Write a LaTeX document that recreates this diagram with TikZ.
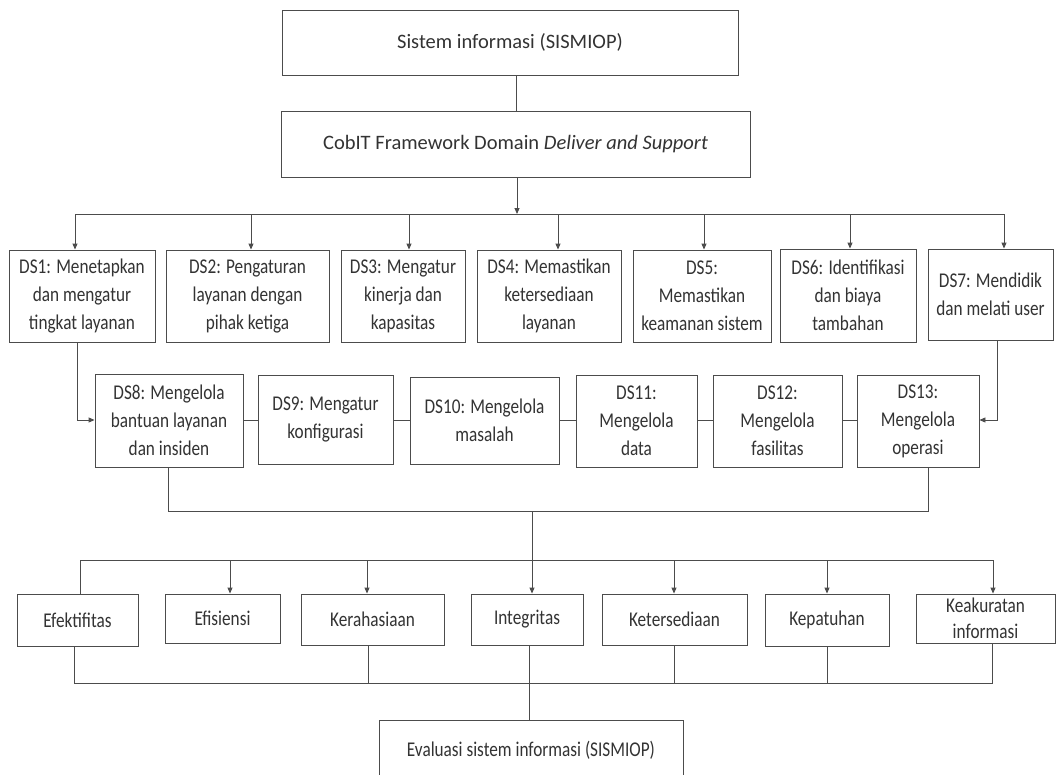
\documentclass[tikz,border=0pt]{standalone}
\usepackage{fontspec}
\setmainfont{Carlito}
\newfontfamily\bodyfont{Carlito}[FakeStretch=0.82]
\usetikzlibrary{arrows.meta}
\newcommand\bx[7][]{\node[box,#1,minimum width={#4-#2},minimum height={#5-#3}] (#2) at ({(#3+#5)/2},{(#4+#6)/2}) {#7};}
\newcommand\mkbox[7][]{\node[box,#1,minimum width={#5-#3},minimum height={#6-#4}] (#2) at ({(#3+#5)/2},{(#4+#6)/2}) {#7};}
\begin{document}
\begin{tikzpicture}[x=1pt,y=-1pt,
  box/.style={draw=black!70,line width=0.9pt,inner sep=0pt,align=center,text=black!80,
    font=\bodyfont\fontsize{21}{28}\selectfont},
  topbox/.style={font=\fontsize{20.5}{24}\selectfont},
  ln/.style={draw=black!70,line width=0.9pt},
  arr/.style={ln,-{Triangle[length=6pt,width=5pt]}}]
\useasboundingbox (0,0) rectangle (1057,774);
\fill[white] (0,0) rectangle (1057,774);
\clip (0,0) rectangle (1057,774);
% top
\mkbox[topbox]{top}{282}{10}{738}{75}{Sistem informasi (SISMIOP)}
\mkbox[topbox]{cobit}{281}{111}{750}{177}{CobIT Framework Domain \textit{Deliver and Support}}
% DS row 1
\mkbox{ds1}{9}{250}{155}{342}{DS1: Menetapkan\\dan mengatur\\tingkat layanan}
\mkbox{ds2}{166}{250}{329}{342}{DS2: Pengaturan\\layanan dengan\\pihak ketiga}
\mkbox{ds3}{341}{250}{465}{342}{DS3: Mengatur\\kinerja dan\\kapasitas}
\mkbox{ds4}{477}{250}{621}{342}{DS4: Memastikan\\ketersediaan\\layanan}
\mkbox{ds5}{633}{250}{771}{342}{DS5:\\Memastikan\\keamanan sistem}
\mkbox{ds6}{780}{249}{916}{342}{DS6: Identifikasi\\dan biaya\\tambahan}
\mkbox{ds7}{928}{249}{1053}{340}{DS7: Mendidik\\dan melati user}
% DS row 2
\mkbox{ds8}{95}{374}{243}{467}{DS8: Mengelola\\bantuan layanan\\dan insiden}
\mkbox{ds9}{258}{375}{393}{464}{DS9: Mengatur\\konfigurasi}
\mkbox{ds10}{410}{377}{559}{464}{DS10: Mengelola\\masalah}
\mkbox{ds11}{576}{375}{697}{467}{DS11:\\Mengelola\\data}
\mkbox{ds12}{713}{375}{842}{467}{DS12:\\Mengelola\\fasilitas}
\mkbox{ds13}{857}{375}{979}{467}{DS13:\\Mengelola\\operasi}
% criteria row
\mkbox{efek}{17}{594}{138}{646}{Efektifitas}
\mkbox{efis}{165}{594}{280}{643}{Efisiensi}
\mkbox{kera}{301}{594}{444}{645}{Kerahasiaan}
\mkbox{inte}{471}{594}{583}{645}{Integritas}
\mkbox{kete}{602}{594}{747}{645}{Ketersediaan}
\mkbox{kepa}{765}{594}{889}{646}{Kepatuhan}
\mkbox[font=\bodyfont\fontsize{21}{26}\selectfont]{keak}{916}{594}{1055}{643}{Keakuratan\\informasi}
% evaluation
\mkbox{eval}{379}{720}{683}{780}{Evaluasi sistem informasi (SISMIOP)}

% connectors top
\coordinate (c1) at (516,0);
\draw[ln] (top.south -| c1) -- (cobit.north -| c1);
\coordinate (b1) at (517,214);
\draw[arr] (cobit.south -| b1) -- (b1);
\coordinate (b1l) at (75,214);
\coordinate (b1r) at (1004,214);
\draw[ln] (b1l) -- (b1r);
\foreach \n/\x in {ds1/75,ds2/251,ds3/409,ds4/558,ds5/704,ds6/850,ds7/1004}
  \draw[arr] (\x,214) -- (\n.north -| {(\x,0)});
% row 2 links
\coordinate (r2) at (0,420);
\draw[ln] (ds8.east |- r2) -- (ds9.west |- r2);
\draw[ln] (ds9.east |- r2) -- (ds10.west |- r2);
\draw[ln] (ds10.east |- r2) -- (ds11.west |- r2);
\draw[ln] (ds11.east |- r2) -- (ds12.west |- r2);
\draw[ln] (ds12.east |- r2) -- (ds13.west |- r2);
\coordinate (d1) at (77,0);
\draw[arr] (ds1.south -| d1) |- (ds8.west |- r2);
\coordinate (d7) at (997,0);
\draw[arr] (ds7.south -| d7) |- (ds13.east |- r2);
% bus to criteria
\coordinate (b2a) at (168,511);
\coordinate (b2b) at (928,511);
\draw[ln] (ds8.south -| b2a) -- (b2a) -- (b2b) -- (ds13.south -| b2b);
\coordinate (b2m) at (532,511);
\draw[arr] (b2m) -- (inte.north -| b2m);
\coordinate (b3l) at (80,560);
\coordinate (b3r) at (993,560);
\draw[ln] (efek.north -| b3l) -- (b3l) -- (b3r);
\foreach \n/\x in {efis/230,kera/367,kete/674,kepa/827,keak/993}
  \draw[arr] (\x,560) -- (\n.north -| {(\x,0)});
% bottom bus
\coordinate (b4l) at (74,683);
\coordinate (b4r) at (992,683);
\draw[ln] (efek.south -| b4l) -- (b4l) -- (b4r) -- (keak.south -| b4r);
\foreach \n/\x in {kera/368,kete/674,kepa/827}
  \draw[ln] (\n.south -| {(\x,0)}) -- (\x,683);
\coordinate (b4m) at (529,683);
\draw[ln] (inte.south -| b4m) -- (eval.north -| b4m);
\end{tikzpicture}
\end{document}
